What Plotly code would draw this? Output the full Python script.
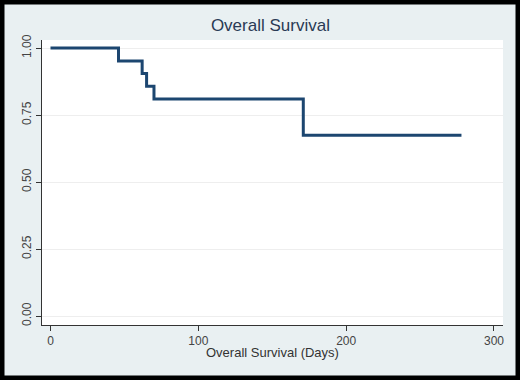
import plotly.graph_objects as go

# Kaplan-Meier step data (days, survival)
days = [0, 46, 62, 65, 70, 171, 278]
survival = [1.0, 0.952, 0.905, 0.857, 0.810, 0.675, 0.675]

x_ticks = [0, 100, 200, 300]
y_ticks = [0.0, 0.25, 0.5, 0.75, 1.0]
y_tick_labels = ["0.00", "0.25", "0.50", "0.75", "1.00"]

fig = go.Figure()
fig.add_trace(go.Scatter(
    x=days, y=survival, mode="lines", line=dict(shape="hv", color="#1c4670", width=3),
    hoverinfo="skip", showlegend=False,
))

W, H = 520, 380
ml, mr, mt, mb = 42, 17, 40, 55
pw, ph = W - ml - mr, H - mt - mb

def px_to_paper_x(px):
    return (px - ml) / pw

def px_to_paper_y(py):
    return 1 - (py - mt) / ph

fig.add_shape(type="rect", xref="paper", yref="paper",
              x0=px_to_paper_x(0), x1=px_to_paper_x(W), y0=px_to_paper_y(H), y1=px_to_paper_y(0),
              line=dict(color="black", width=9), fillcolor="rgba(0,0,0,0)", layer="above")

fig.add_annotation(text="Overall Survival (Days)", xref="paper", yref="paper",
                   x=0.5, y=px_to_paper_y(352), xanchor="center", yanchor="middle",
                   showarrow=False, font=dict(size=13, color="#333333"))

fig.update_layout(
    width=W, height=H,
    margin=dict(l=ml, r=mr, t=mt, b=mb),
    paper_bgcolor="#e9f0f2",
    plot_bgcolor="white",
    font=dict(family="Liberation Sans, Arial, sans-serif", color="#333333"),
    title=dict(text="Overall Survival", x=0.52, xanchor="center", y=1 - 25 / H, yanchor="middle",
               font=dict(size=17, color="#2a3a55")),
    xaxis=dict(range=[-5.75, 306.1], tickvals=x_ticks, showgrid=False, zeroline=False,
               showline=True, linecolor="#333333", linewidth=1, ticks="outside", ticklen=5,
               tickcolor="#333333", tickfont=dict(size=12, color="#444444")),
    yaxis=dict(range=[-0.0336, 1.03], tickvals=y_ticks, ticktext=y_tick_labels, tickangle=-90,
               showgrid=True, gridcolor="#eeeeee", gridwidth=1, zeroline=False,
               showline=True, linecolor="#333333", linewidth=1, ticks="outside", ticklen=5,
               tickcolor="#333333", tickfont=dict(size=12, color="#444444")),
)

fig.write_html("out.html", config={"displayModeBar": False},
               post_script="document.body.style.margin='0';")
